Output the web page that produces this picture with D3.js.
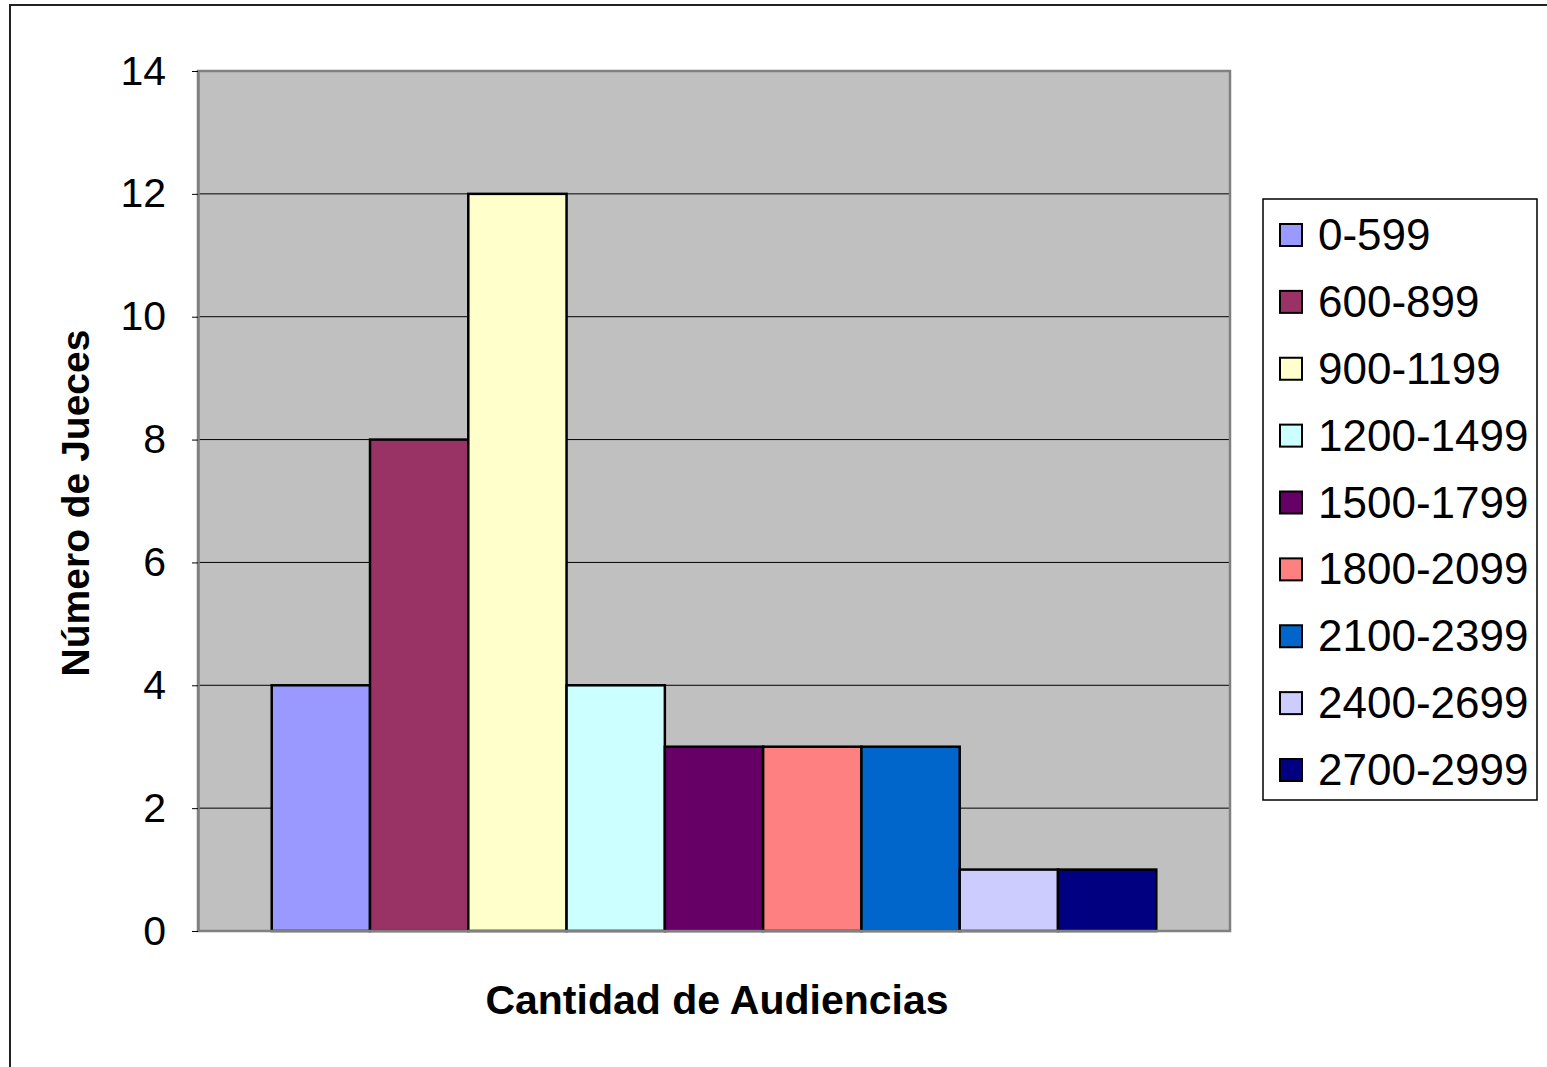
<!DOCTYPE html>
<html>
<head>
<meta charset="utf-8">
<script src="https://cdn.jsdelivr.net/npm/d3@7"></script>
<style>
  body { margin: 0; background: #fff; }
  svg { display: block; font-family: Arial, "Liberation Sans", sans-serif; }
</style>
</head>
<body>
<div class="chart"></div>
<script>
// data
const ranges = ['0-599', '600-899', '900-1199', '1200-1499', '1500-1799',
                '1800-2099', '2100-2399', '2400-2699', '2700-2999'];
const jueces = [4, 8, 12, 4, 3, 3, 3, 1, 1];
const colors = ['#9999FF', '#993366', '#FFFFCC', '#CCFFFF', '#660066',
                '#FF8080', '#0066CC', '#CCCCFF', '#000080'];
const yTicks = [0, 2, 4, 6, 8, 10, 12, 14];

const W = 1547, H = 1067;
const margin = { top: 71, left: 198 };
const width = 1230 - 198;
const height = 931 - 71;

const svg = d3.select('.chart').append('svg')
  .attr('width', W).attr('height', H);

// outer chart frame
svg.append('rect')
  .attr('x', 10).attr('y', 5)
  .attr('width', W + 20).attr('height', H + 20)
  .attr('fill', '#fff')
  .attr('stroke', '#222').attr('stroke-width', 2);

const g = svg.append('g').attr('transform', `translate(${margin.left},${margin.top})`);

// scales - gap width 150% like excel
const x = d3.scaleBand().domain(ranges).range([0, width]).paddingInner(0).paddingOuter(0.75);
const y = d3.scaleLinear().domain([0, 14]).range([height, 0]);

// plot area
g.append('rect')
  .attr('width', width).attr('height', height)
  .attr('fill', '#C0C0C0');

// gridlines
g.append('g')
  .selectAll('line')
  .data(yTicks.filter(d => d > 0 && d < 14))
  .join('line')
  .attr('x1', 0).attr('x2', width)
  .attr('y1', d => y(d)).attr('y2', d => y(d))
  .attr('stroke', '#000').attr('stroke-width', 1);

// bars
g.selectAll('.bar')
  .data(jueces)
  .join('rect')
  .attr('class', 'bar')
  .attr('x', (d, i) => x(ranges[i]))
  .attr('y', d => y(d))
  .attr('width', x.bandwidth())
  .attr('height', d => y(0) - y(d))
  .attr('fill', (d, i) => colors[i])
  .attr('stroke', '#000').attr('stroke-width', 2.5);

// plot border
g.append('rect')
  .attr('width', width).attr('height', height)
  .attr('fill', 'none')
  .attr('stroke', '#808080').attr('stroke-width', 2.5);

// y axis
const yAxis = d3.axisLeft(y).tickValues(yTicks).tickSizeInner(6).tickSizeOuter(0).tickPadding(26);
const yAxisDraw = g.append('g').call(yAxis);
yAxisDraw.select('.domain').attr('stroke', '#808080').attr('stroke-width', 2.5);
yAxisDraw.selectAll('.tick line').attr('stroke', '#000');
yAxisDraw.selectAll('text')
  .attr('font-size', 41).attr('fill', '#000')
  .attr('font-family', 'Arial, "Liberation Sans", sans-serif');

// axis titles
svg.append('text')
  .attr('transform', 'translate(89,503) rotate(-90)')
  .attr('text-anchor', 'middle')
  .attr('font-size', 39).attr('font-weight', 'bold')
  .text('Número de Jueces');

svg.append('text')
  .attr('x', 717).attr('y', 1014)
  .attr('text-anchor', 'middle')
  .attr('font-size', 41).attr('font-weight', 'bold')
  .text('Cantidad de Audiencias');

// legend
const legend = svg.append('g').attr('transform', 'translate(1263,199)');
legend.append('rect')
  .attr('width', 274).attr('height', 601)
  .attr('fill', '#fff').attr('stroke', '#000').attr('stroke-width', 1.5);

const rowY = d3.scalePoint().domain(ranges).range([36, 571]);
const items = legend.selectAll('.item')
  .data(ranges)
  .join('g')
  .attr('class', 'item')
  .attr('transform', d => `translate(0,${rowY(d)})`);

items.append('rect')
  .attr('x', 17).attr('y', -11)
  .attr('width', 22).attr('height', 22)
  .attr('fill', (d, i) => colors[i])
  .attr('stroke', '#000').attr('stroke-width', 2);

items.append('text')
  .attr('x', 55).attr('y', 15)
  .attr('font-size', 44)
  .text(d => d);
</script>
</body>
</html>
